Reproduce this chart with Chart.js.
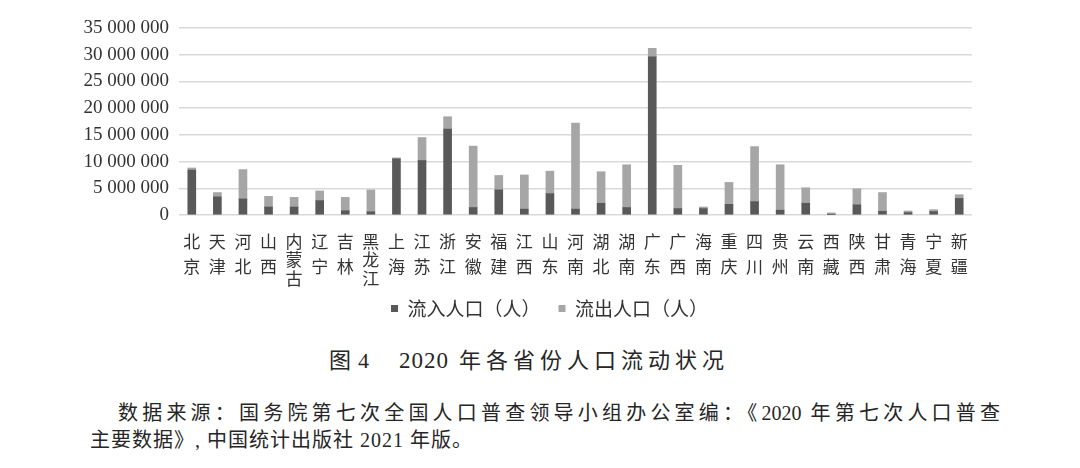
<!DOCTYPE html>
<html lang="zh-CN">
<head>
<meta charset="utf-8">
<script src="https://cdn.jsdelivr.net/npm/chart.js@4.4.1/dist/chart.umd.min.js"></script>
<style>
  body {
    margin: 0;
    width: 1080px;
    height: 468px;
    background: #fff;
    overflow: hidden;
    position: relative;
    font-family: "Liberation Serif", "Noto Sans CJK SC", serif;
    color: #262626;
  }
  #wrap { position: absolute; left: 0; top: 0; width: 1080px; height: 338px; }
  #caption {
    position: absolute; left: 329px; top: 342px;
    font-size: 22px; white-space: nowrap;
  }
  #caption .n4 { margin-left: 7px; }
  #caption .year { margin-left: 30px; font-size: 23px; letter-spacing: 1px; }
  #caption .txt { margin-left: 10px; letter-spacing: 5px; }
  #src1 {
    position: absolute; left: 118px; top: 397px; width: 882px;
    font-size: 20px; white-space: nowrap;
    text-align: justify; text-align-last: justify;
  }
  #src2 {
    position: absolute; left: 90px; top: 424px;
    font-size: 20px; white-space: nowrap; letter-spacing: 1px;
  }
</style>
</head>
<body>
<div id="wrap"><canvas id="chart"></canvas></div>
<div id="caption">图<span class="n4">4</span><span class="year">2020</span><span class="txt">年各省份人口流动状况</span></div>
<div id="src1">数据来源：国务院第七次全国人口普查领导小组办公室编：《2020 年第七次人口普查</div>
<div id="src2">主要数据》, 中国统计出版社 2021 年版。</div>

<script>
// 省份（横轴）
const provinces = [
  '北京', '天津', '河北', '山西', '内蒙古', '辽宁', '吉林', '黑龙江',
  '上海', '江苏', '浙江', '安徽', '福建', '江西', '山东', '河南',
  '湖北', '湖南', '广东', '广西', '海南', '重庆', '四川', '贵州',
  '云南', '西藏', '陕西', '甘肃', '青海', '宁夏', '新疆',
];

// 流入人口，万人 -> 乘 1e4
const inflow = [
  840, 340, 300, 150, 150, 270, 80, 60,
  1050, 1020, 1610, 140, 470, 110, 400, 110,
  220, 140, 2960, 120, 120, 200, 250, 90,
  220, 10, 190, 70, 45, 65, 310,
];

// 流出人口，万人
const outflow = [
  40, 80, 550, 200, 180, 180, 250, 410,
  20, 430, 230, 1150, 270, 640, 420, 1610,
  590, 800, 160, 810, 30, 410, 1030, 850,
  290, 30, 300, 350, 30, 35, 70,
];

const yTicks = [0, 5e6, 10e6, 15e6, 20e6, 25e6, 30e6, 35e6];

const colorIn = '#595959';
const colorOut = '#a6a6a6';
const textColor = '#333333';

// 数字千分位用空格分隔
function formatNumber(v) {
  return String(v).replace(/\B(?=(\d{3})+(?!\d))/g, ' ');
}

// 竖排标签：两字间隔大，三字间隔小（用空行撑开）
function verticalLabel(name) {
  const chars = name.split('');
  const gap = chars.length > 2 ? 2 : 3;
  const lines = [];
  chars.forEach((ch, i) => {
    if (i > 0) for (let k = 0; k < gap; k++) lines.push('');
    lines.push(ch);
  });
  return lines;
}

// 图例整体右移、上移，与原图位置一致
const legendShift = {
  id: 'legendShift',
  afterLayout(chart) {
    const lg = chart.legend;
    if (!lg) return;
    lg.left = 19;
    lg.right = 1080;
    lg.width = lg.right - lg.left;
    lg.top -= 10;
    lg.bottom -= 10;
  },
};

const ctx = document.getElementById('chart').getContext('2d');

// eslint-disable-next-line no-undef
new Chart(ctx, {
  type: 'bar',
  data: {
    labels: provinces,
    datasets: [
      {
        label: '流入人口（人）',
        data: inflow.map((v) => v * 1e4),
        backgroundColor: colorIn,
        barThickness: 8,
      },
      {
        label: '流出人口（人）',
        data: outflow.map((v) => v * 1e4),
        backgroundColor: colorOut,
        barThickness: 8,
      },
    ],
  },
  plugins: [legendShift],
  options: {
    responsive: true,
    maintainAspectRatio: false,
    animation: false,
    devicePixelRatio: 1,
    layout: { padding: { left: 0, right: 108, top: 28, bottom: 0 } },
    plugins: {
      tooltip: { enabled: false },
      legend: {
        position: 'bottom',
        labels: {
          boxWidth: 7,
          boxHeight: 7,
          padding: 18,
          color: textColor,
          font: { family: '"Noto Sans CJK SC", "Liberation Serif"', size: 19 },
        },
      },
    },
    scales: {
      x: {
        stacked: true,
        grid: { display: false, drawTicks: false },
        border: { display: false },
        afterFit(scale) {
          // eslint-disable-next-line no-param-reassign
          scale.height = 76;
        },
        ticks: {
          autoSkip: false,
          maxRotation: 0,
          padding: 23,
          color: textColor,
          font: { family: '"Noto Sans CJK SC"', size: 17, lineHeight: '6.25px' },
          callback(value) {
            return verticalLabel(provinces[value]);
          },
        },
      },
      y: {
        stacked: true,
        min: 0,
        max: 35e6,
        afterFit(scale) {
          // 绘图区左边界固定在 179px
          // eslint-disable-next-line no-param-reassign
          scale.width = 179;
        },
        afterBuildTicks(scale) {
          // eslint-disable-next-line no-param-reassign
          scale.ticks = yTicks.map((v) => ({ value: v }));
        },
        grid: { color: '#d9d9d9', lineWidth: 1.5, drawTicks: false },
        border: { display: false },
        ticks: {
          autoSkip: false,
          padding: 10,
          color: textColor,
          font: { family: '"Liberation Serif"', size: 19 },
          callback: (v) => formatNumber(v),
        },
      },
    },
  },
});
</script>
</body>
</html>
